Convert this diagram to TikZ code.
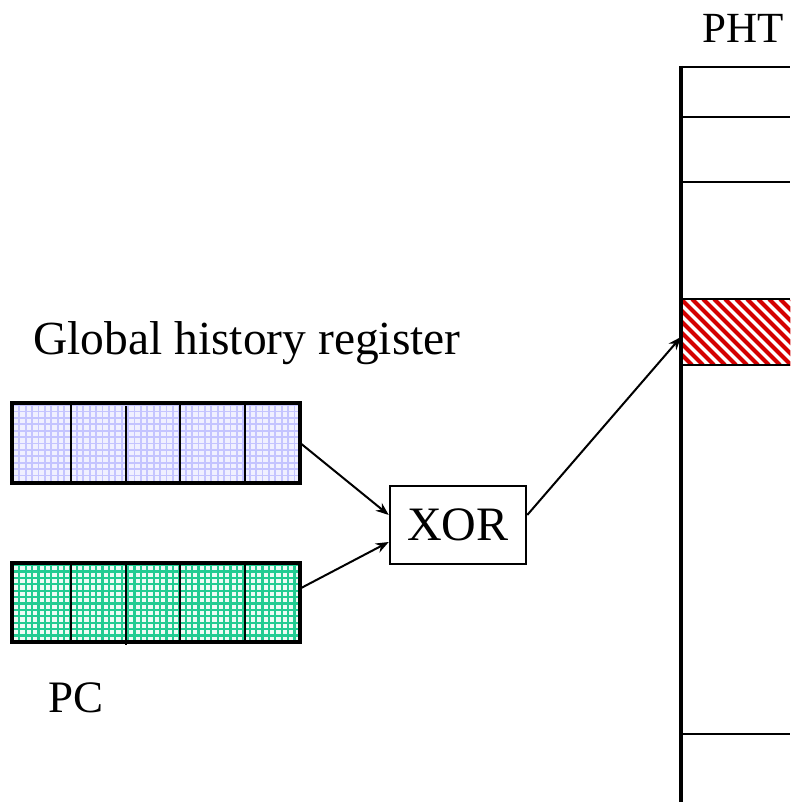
\documentclass[tikz,border=0pt]{standalone}
\usepackage{fontspec}
\setmainfont{Liberation Serif}
\usetikzlibrary{arrows.meta}
\definecolor{lavfill}{HTML}{F0F0FF}
\definecolor{lavline}{HTML}{C4C4FF}
\definecolor{grnfill}{HTML}{EEFBF5}
\definecolor{grnline}{HTML}{22CC92}
\definecolor{hatchred}{HTML}{D40000}
\tikzset{
  reg/.style={draw=none, minimum width=288pt, minimum height=80pt, inner sep=0pt},
  regframe/.style={line width=3.5pt},
  cellline/.style={line width=2.5pt},
  conn/.style={line width=2pt, -{Stealth[length=13pt,width=10pt]}},
  lbl/.style={inner sep=0pt, anchor=base west},
  rowline/.style={line width=2.5pt},
}
\begin{document}
\begin{tikzpicture}[x=1pt,y=1pt]
\useasboundingbox (0,0) rectangle (790,802);

% global history register
\node[reg] (ghr) at (156,359) {};
\begin{scope}
  \clip (ghr.south west) rectangle (ghr.north east);
  \fill[lavfill] (ghr.south west) rectangle (ghr.north east);
  \draw[lavline, line width=1.8pt, step=6.4pt] (ghr.south west) grid (ghr.north east);
\end{scope}
\draw[regframe] (ghr.south west) rectangle (ghr.north east);
\foreach \x in {71,180,245} \draw[cellline] (\x,319) -- (\x,399);
\draw[cellline] (126,317) -- (126,396);

% program counter
\node[reg, minimum height=79pt] (pc) at (156,199.5) {};
\begin{scope}
  \clip (pc.south west) rectangle (pc.north east);
  \fill[grnfill] (pc.south west) rectangle (pc.north east);
  \draw[grnline, line width=2.2pt, step=6.4pt] (pc.south west) grid (pc.north east);
\end{scope}
\draw[regframe] (pc.south west) rectangle (pc.north east);
\foreach \x in {71,180,245} \draw[cellline] (\x,160) -- (\x,239);
\draw[cellline] (126,157) -- (126,237);

% labels
\node[lbl, font=\fontsize{47.5}{50}\selectfont] (ghrlabel) at (33,447) {Global history register};
\node[lbl, font=\fontsize{45}{48}\selectfont] (pclabel) at (48,89) {PC};
\node[lbl, font=\fontsize{43}{46}\selectfont] (phtlabel) at (702,759) {PHT};

% XOR gate
\node[draw, line width=2.5pt, minimum width=136pt, minimum height=78pt, inner sep=0pt,
      font=\fontsize{48}{50}\selectfont] (xor) at (458,277) {XOR};

% pattern history table
\coordinate (phttop) at (681,736);
\coordinate (phtbot) at (681,0);
\draw[line width=4pt] (phttop) -- (phtbot);
\foreach \y in {735,685,620,68} \draw[rowline] (681,\y) -- (790,\y);
\node[draw=none, minimum width=109pt, minimum height=66pt, inner sep=0pt, anchor=west] (entry) at (681,470) {};
\begin{scope}
  \clip (entry.south west) rectangle (entry.north east);
  \foreach \k in {-8,...,18}
    \draw[hatchred, line width=4.2pt] (681+11*\k,503) -- (681+11*\k+66,437);
\end{scope}
\draw[rowline] (entry.north west) -- (entry.north east);
\draw[rowline] (entry.south west) -- (entry.south east);
\draw[line width=4pt] (681,520) -- (681,420);

% connectors
\draw[conn] (ghr.east) -- ([yshift=10pt]xor.west);
\draw[conn] ([yshift=14pt]pc.east) -- ([yshift=-17pt]xor.west);
\draw[conn] ([yshift=10pt]xor.east) -- ([yshift=-5pt]entry.west);
\end{tikzpicture}
\end{document}
